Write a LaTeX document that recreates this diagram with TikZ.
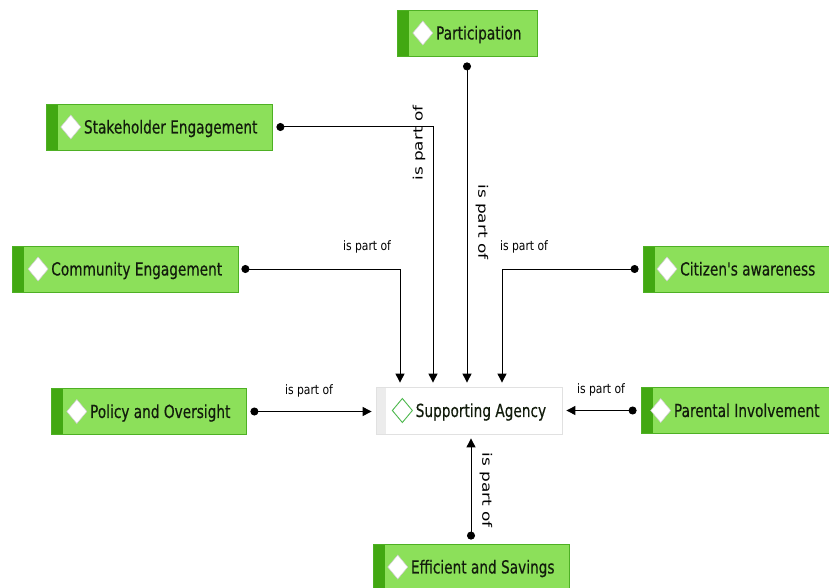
\documentclass[tikz,border=0pt]{standalone}
\usepackage{fontspec}
\setmainfont{DejaVu Sans}
\newfontfamily\bxf{DejaVu Sans}[FakeStretch=0.76,FakeBold=0.5]
\newfontfamily\lbf{DejaVu Sans}[FakeStretch=0.83]
\newfontfamily\rlf{DejaVu Sans}[FakeStretch=1.3]
\usetikzlibrary{arrows.meta}
\definecolor{boxfill}{RGB}{140,224,90}
\definecolor{boxstrip}{RGB}{66,168,18}
\definecolor{boxborder}{RGB}{78,176,36}
\definecolor{txt}{RGB}{18,28,12}
\definecolor{saborder}{RGB}{225,225,225}
\definecolor{sastrip}{RGB}{236,236,236}
\newcommand{\dmdw}{\tikz[baseline={(0,-0.36em)}]\filldraw[fill=white,draw=black!20,line width=0.5pt] (0,12pt)--(10pt,0)--(0,-12pt)--(-10pt,0)--cycle;}
\newcommand{\dmdg}{\tikz[baseline={(0,-0.36em)}]\filldraw[fill=white,draw=green!60!black!70,line width=0.9pt] (0,12pt)--(10pt,0)--(0,-12pt)--(-10pt,0)--cycle;}
\tikzset{
  ent/.style={draw=boxborder, line width=0.8pt, fill=boxfill, minimum height=46pt, inner sep=0pt,
    font=\bxf\fontsize{18}{20}\selectfont, text=txt,
    path picture={\fill[boxstrip] (path picture bounding box.south west) rectangle ([xshift=12pt]path picture bounding box.north west);}},
  center/.style={draw=saborder, line width=0.8pt, fill=white, minimum height=47pt, inner sep=0pt,
    font=\bxf\fontsize{18}{20}\selectfont, text=txt,
    path picture={\fill[sastrip] (path picture bounding box.south west) rectangle ([xshift=10pt]path picture bounding box.north west);}},
  conn/.style={line width=1pt, black, {Circle[length=8pt]}-{Triangle[length=9pt,width=9pt]}},
  lbl/.style={font=\lbf\fontsize{13}{15}\selectfont, text=black, inner sep=1pt},
  rlbl/.style={font=\rlf\fontsize{13}{15}\selectfont, text=black, inner sep=1pt}
}
\begin{document}
\begin{tikzpicture}[x=1pt,y=-1pt]
\useasboundingbox (0,0) rectangle (829,588);
\node[ent, minimum width=140pt] (part) at (467,33) {\dmdw\,Participation};
\node[ent, minimum width=226pt] (stake) at (159,127) {\dmdw\,Stakeholder Engagement};
\node[ent, minimum width=226pt] (comm) at (125,269) {\dmdw\,Community Engagement};
\node[ent, minimum width=186pt] (cit) at (736,269) {\dmdw\,Citizen's awareness};
\node[ent, minimum width=195pt] (pol) at (148.5,411.5) {\dmdw\,Policy and Oversight};
\node[ent, minimum width=188pt] (par) at (735,410.5) {\dmdw\,Parental Involvement};
\node[center, minimum width=186pt] (sa) at (469,410.5) {\dmdg\,Supporting Agency};
\node[ent, minimum width=196pt] (eff) at (471,567) {\dmdw\,Efficient and Savings};

\draw[conn, shorten <=6pt, shorten >=4pt] (part.south) -- (part.south |- sa.north);
\draw[conn, shorten <=4pt, shorten >=4pt] (stake.east) -| ([xshift=-36pt]sa.north);
\draw[conn, shorten <=3pt, shorten >=4pt] (comm.east) -| ([xshift=-69pt]sa.north);
\draw[conn, shorten <=4pt, shorten >=4pt] (cit.west) -| ([xshift=33pt]sa.north);
\draw[conn, shorten <=4pt, shorten >=4pt] (pol.east) -- (pol.east -| sa.west);
\draw[conn, shorten <=4pt, shorten >=4pt] (par.west) -- (par.west -| sa.east);
\draw[conn, shorten <=4pt, shorten >=4pt] (eff.north) -- (eff.north |- sa.south);

\node[lbl] (l1) at (367,247) {is part of};
\node[lbl] (l2) at (524,247) {is part of};
\node[lbl] (l3) at (309,391) {is part of};
\node[lbl] (l4) at (601,390) {is part of};
\node[rlbl, rotate=90] (l5) at (419,143) {is part of};
\node[rlbl, rotate=-90] (l6) at (482,222) {is part of};
\node[rlbl, rotate=-90] (l7) at (486,490) {is part of};
\end{tikzpicture}
\end{document}
